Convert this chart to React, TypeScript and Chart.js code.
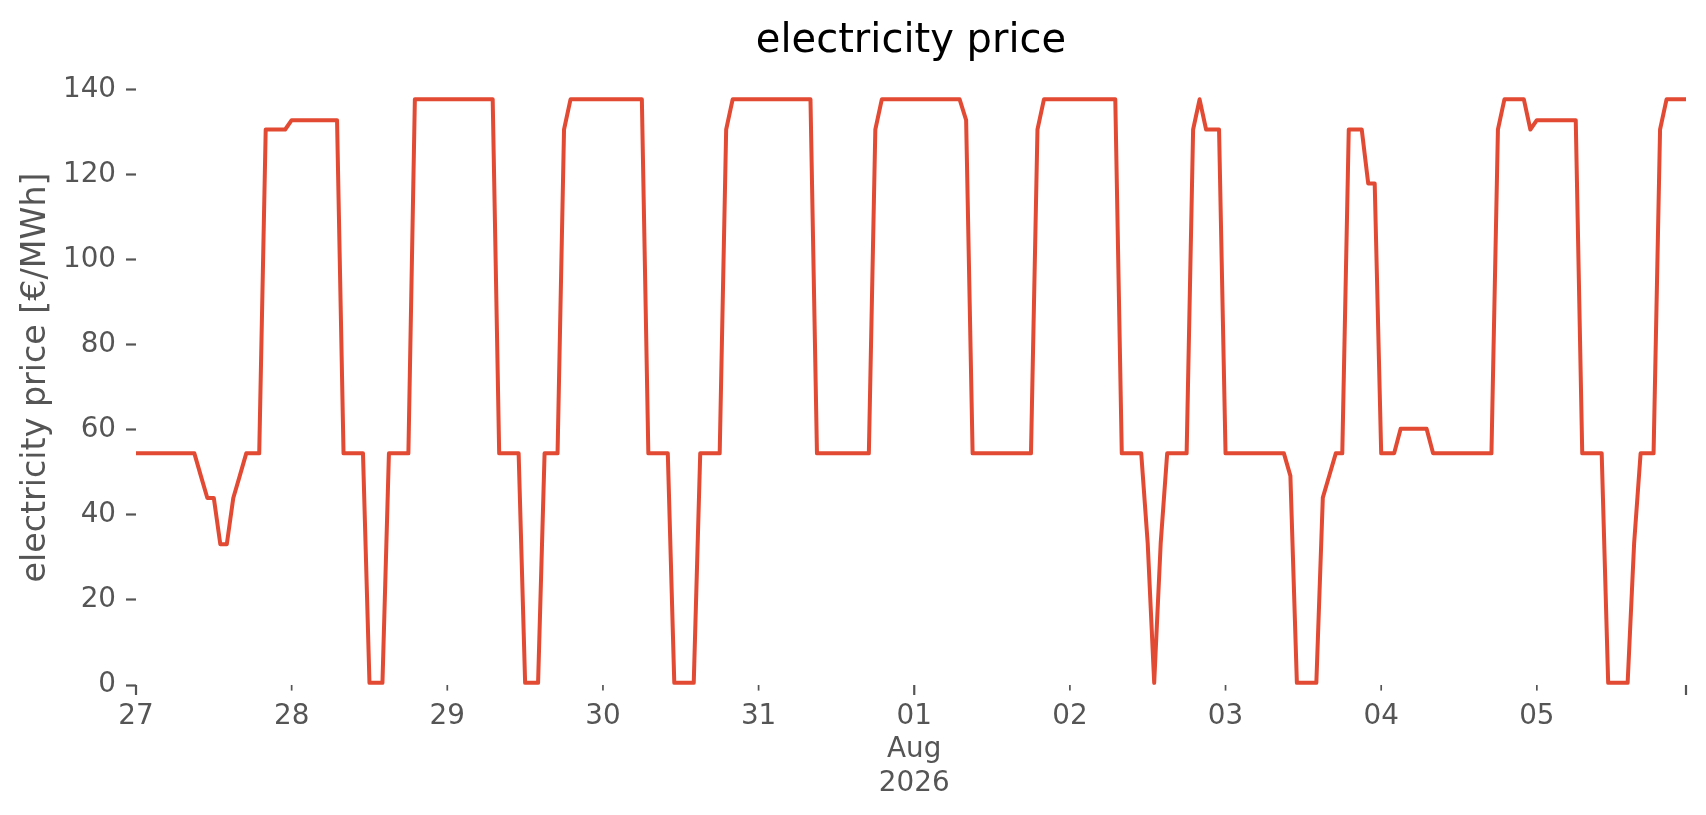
import { useEffect, useRef } from 'react';
import { Chart, registerables } from 'chart.js';

Chart.register(...registerables);

// Hourly electricity price [€/MWh], 27 Jul 2026 00:00 .. 05 Aug 2026 23:00, one array per day
const jul27 = [54.5, 54.5, 54.5, 54.5, 54.5, 54.5, 54.5, 54.5, 54.5, 54.5, 49.2, 44.0, 44.0, 33.1, 33.1, 44.0, 49.2, 54.5, 54.5, 54.5, 130.7, 130.7, 130.7, 130.7];
const jul28 = [132.9, 132.9, 132.9, 132.9, 132.9, 132.9, 132.9, 132.9, 54.5, 54.5, 54.5, 54.5, 0.5, 0.5, 0.5, 54.5, 54.5, 54.5, 54.5, 137.8, 137.8, 137.8, 137.8, 137.8];
const jul29 = [137.8, 137.8, 137.8, 137.8, 137.8, 137.8, 137.8, 137.8, 54.5, 54.5, 54.5, 54.5, 0.5, 0.5, 0.5, 54.5, 54.5, 54.5, 130.7, 137.8, 137.8, 137.8, 137.8, 137.8];
const jul30 = [137.8, 137.8, 137.8, 137.8, 137.8, 137.8, 137.8, 54.5, 54.5, 54.5, 54.5, 0.5, 0.5, 0.5, 0.5, 54.5, 54.5, 54.5, 54.5, 130.7, 137.8, 137.8, 137.8, 137.8];
const jul31 = [137.8, 137.8, 137.8, 137.8, 137.8, 137.8, 137.8, 137.8, 137.8, 54.5, 54.5, 54.5, 54.5, 54.5, 54.5, 54.5, 54.5, 54.5, 130.7, 137.8, 137.8, 137.8, 137.8, 137.8];
const aug01 = [137.8, 137.8, 137.8, 137.8, 137.8, 137.8, 137.8, 137.8, 132.9, 54.5, 54.5, 54.5, 54.5, 54.5, 54.5, 54.5, 54.5, 54.5, 54.5, 130.7, 137.8, 137.8, 137.8, 137.8];
const aug02 = [137.8, 137.8, 137.8, 137.8, 137.8, 137.8, 137.8, 137.8, 54.5, 54.5, 54.5, 54.5, 33.3, 0.5, 33.3, 54.5, 54.5, 54.5, 54.5, 130.7, 137.8, 130.7, 130.7, 130.7];
const aug03 = [54.5, 54.5, 54.5, 54.5, 54.5, 54.5, 54.5, 54.5, 54.5, 54.5, 49.2, 0.5, 0.5, 0.5, 0.5, 44.1, 49.3, 54.5, 54.5, 130.7, 130.7, 130.7, 118.0, 118.0];
const aug04 = [54.5, 54.5, 54.5, 60.3, 60.3, 60.3, 60.3, 60.3, 54.5, 54.5, 54.5, 54.5, 54.5, 54.5, 54.5, 54.5, 54.5, 54.5, 130.7, 137.8, 137.8, 137.8, 137.8, 130.7];
const aug05 = [132.9, 132.9, 132.9, 132.9, 132.9, 132.9, 132.9, 54.5, 54.5, 54.5, 54.5, 0.5, 0.5, 0.5, 0.5, 33.3, 54.5, 54.5, 54.5, 130.7, 137.8, 137.8, 137.8, 137.8];

const prices = [jul27, jul28, jul29, jul30, jul31, aug01, aug02, aug03, aug04, aug05].flat();
const hours = prices.map((_, i) => i);

// x ticks (hour index) and their labels
const tickHours = [0, 24, 48, 72, 96, 120, 144, 168, 192, 216, 239];
const tickLabels: (string | string[])[] = ['27', '28', '29', '30', '31', ['01', 'Aug', '2026'], '02', '03', '04', '05', ''];
const majorTickHours = [0, 120, 239];
const yTicks = [0, 20, 40, 60, 80, 100, 120, 140];

const FONT = 'DejaVu Sans';
const GREY = '#555555';

const xTickMarks = {
  id: 'xTickMarks',
  afterDraw(chart: any) {
    const { ctx, chartArea, scales } = chart;
    const x = scales.x;
    ctx.save();
    ctx.strokeStyle = GREY;
    tickHours.forEach((h) => {
      const px = x.getPixelForValue(h);
      const major = majorTickHours.includes(h);
      ctx.lineWidth = major ? 2.2 : 1.7;
      ctx.beginPath();
      ctx.moveTo(px, chartArea.bottom);
      ctx.lineTo(px, chartArea.bottom + (major ? 10 : 5.6));
      ctx.stroke();
    });
    ctx.restore();
  },
};

export default function App() {
  const ref = useRef<HTMLCanvasElement>(null);

  useEffect(() => {
    document.body.style.margin = '0';
    document.body.style.background = '#ffffff';
    const chart = new Chart(ref.current as HTMLCanvasElement, {
      type: 'line',
      data: {
        datasets: [
          {
            label: 'electricity price',
            data: prices.map((y, i) => ({ x: hours[i], y })),
            borderColor: '#E24A33',
            backgroundColor: '#E24A33',
            borderWidth: 4,
            borderJoinStyle: 'round',
            borderCapStyle: 'square',
            pointRadius: 0,
            tension: 0,
            fill: false,
          },
        ],
      },
      plugins: [xTickMarks],
      options: {
        animation: false,
        responsive: true,
        maintainAspectRatio: false,
        layout: { padding: { left: 0, right: 20, top: 0, bottom: 0 } },
        plugins: {
          legend: { display: false },
          tooltip: { enabled: false },
          title: {
            display: true,
            fullSize: false,
            text: 'electricity price',
            color: '#000000',
            font: { family: FONT, size: 40, weight: 'normal' },
            padding: { top: 18, bottom: 4 },
          },
        },
        scales: {
          x: {
            type: 'linear',
            min: 0,
            max: 239,
            border: { display: false },
            grid: { display: false, drawTicks: false },
            afterBuildTicks: (scale: any) => {
              scale.ticks = tickHours.map((v) => ({ value: v }));
            },
            afterFit: (scale: any) => {
              scale.height = 130;
            },
            ticks: {
              autoSkip: false,
              maxRotation: 0,
              minRotation: 0,
              padding: 15,
              color: GREY,
              font: { family: FONT, size: 27.8 },
              callback: (value: any) => {
                const i = tickHours.indexOf(Number(value));
                return i >= 0 ? tickLabels[i] : '';
              },
            },
          },
          y: {
            type: 'linear',
            min: 0,
            max: 144.7,
            border: { display: false },
            grid: {
              drawOnChartArea: false,
              drawTicks: true,
              tickLength: 10,
              tickColor: GREY,
              tickWidth: 2.2,
            },
            afterBuildTicks: (scale: any) => {
              scale.ticks = yTicks.map((v) => ({ value: v }));
            },
            afterFit: (scale: any) => {
              scale.width = 136;
            },
            ticks: {
              padding: 10,
              color: GREY,
              font: { family: FONT, size: 27.8 },
              callback: (value: any) => String(value),
            },
            title: {
              display: true,
              text: 'electricity price [€/MWh]',
              color: GREY,
              font: { family: FONT, size: 33.3 },
              padding: { top: 16, bottom: 0 },
            },
          },
        },
      },
    });
    return () => chart.destroy();
  }, []);

  return (
    <div style={{ width: 1706, height: 815, position: 'relative', background: '#ffffff' }}>
      <canvas ref={ref} />
    </div>
  );
}
